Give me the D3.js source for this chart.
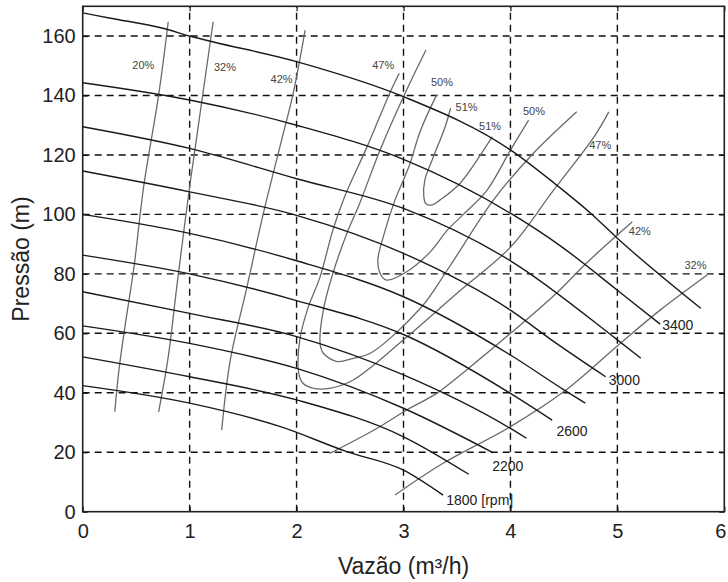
<!DOCTYPE html>
<html>
<head>
<meta charset="utf-8">
<script src="https://cdn.jsdelivr.net/npm/d3@7"></script>
<style>
  body { margin: 0; background: #fff; }
  svg { display: block; }
</style>
</head>
<body>
<div id="chart"></div>
<script>
// Pump map: head vs flow for several speeds, with efficiency iso-lines
const xTicks = [0, 1, 2, 3, 4, 5, 6];
const yTicks = [0, 20, 40, 60, 80, 100, 120, 140, 160];

// speed curves, [flow m3/h, head m]
const rpm = [1800, 2000, 2200, 2400, 2600, 2800, 3000, 3200, 3400, 3600];
const h1800 = [[0, 42.4], [1, 36.5], [1.85, 28.6], [2.47, 20.2], [3, 14], [3.37, 5.6]];
const h2000 = [[0, 52.1], [1, 45.4], [2, 37.6], [3, 25.2], [3.61, 12.6]];
const h2200 = [[0, 62.5], [1, 56.6], [2, 48.2], [3, 34.8], [3.84, 19.8]];
const h2400 = [[0, 74], [1, 66.7], [2, 58.9], [3, 46], [4, 28], [4.15, 24.7]];
const h2600 = [[0, 86.3], [1, 80], [2, 71], [3, 59.6], [4, 39.8], [4.39, 30.8]];
const h2800 = [[0, 100], [1, 93.6], [2, 84.4], [3, 72.3], [4, 52.7], [4.5, 41], [4.7, 36.5]];
const h3000 = [[0, 114.6], [1, 107.6], [2, 99.7], [3, 86.9], [4, 67.8], [4.43, 56.6], [4.89, 45.4]];
const h3200 = [[0, 129.5], [1, 122.2], [2, 112], [3, 102], [4, 84.4], [5, 57.8], [5.22, 51.6]];
const h3400 = [[0, 144.3], [1, 138.5], [2, 130], [3, 118.5], [4, 100.4], [4.46, 89.6], [5, 74.5], [5.4, 63.1]];
const h3600 = [[0, 167.8], [0.26, 166], [0.75, 162.6], [1, 160], [2, 151.4], [3, 139.6], [4, 121.7], [4.41, 110.5], [4.75, 100.4], [5, 92], [5.78, 68.4]];
const speedCurves = [h1800, h2000, h2200, h2400, h2600, h2800, h3000, h3200, h3400, h3600];

// speed labels (left end of each text)
const rpmLabelText = ['1800 [rpm]', '2200', '2600', '3000', '3400'];
const rpmLabelQ = [3.40, 3.83, 4.43, 4.92, 5.42];
const rpmLabelH = [3.4, 14.9, 26.6, 44, 62.5];

// efficiency iso-lines
const eff20 = [[0.30, 33.6], [0.34, 48], [0.40, 63.4], [0.48, 82.4], [0.57, 109.3], [0.71, 140.1], [0.80, 164.8]];
const eff32a = [[0.71, 33.6], [0.80, 52.1], [0.88, 75.7], [1.00, 109.3], [1.12, 139.6], [1.22, 164.8]];
const eff42a = [[1.30, 27.5], [1.38, 51], [1.53, 74.6], [1.69, 100.4], [1.86, 125], [1.97, 141], [2.08, 162]];
const eff47 = [[2.96, 147.5], [2.87, 140.7], [2.66, 122.8], [2.45, 106], [2.34, 94.8], [2.22, 79], [2.10, 67.8],
  [2.03, 57.7], [2.02, 46.6], [2.06, 43.2], [2.16, 41.5], [2.31, 41.5], [2.53, 44.3], [3.0, 57.8], [3.5, 73.5],
  [4.0, 89], [4.4, 108], [4.78, 126], [4.92, 134.5]];
const eff48 = [[3.21, 155.3], [3.0, 139.6], [2.78, 121.6], [2.59, 103.7], [2.47, 93.6], [2.34, 80.2], [2.25, 67.8],
  [2.22, 56.6], [2.25, 53.3], [2.38, 50.5], [2.53, 51.6], [2.69, 53.3], [3.16, 68.5], [3.41, 81.3], [3.84, 104.8],
  [4.2, 120], [4.62, 134.5]];
const eff50 = [[3.31, 140.2], [3.16, 128.3], [3.05, 116], [2.92, 104.8], [2.82, 93.6], [2.76, 84.7], [2.78, 80.2],
  [2.84, 77.9], [3.03, 80.7], [3.25, 87.4], [3.41, 94.7], [3.56, 100], [3.78, 108.1], [4.0, 121.6], [4.17, 131.7]];
const eff51 = [[3.44, 135.7], [3.39, 129.5], [3.28, 119.4], [3.20, 111.6], [3.19, 106], [3.21, 103.6], [3.27, 103.2],
  [3.34, 104.8], [3.53, 110.5], [3.81, 125], [3.83, 126.1]];
const eff42b = [[2.31, 19.6], [2.75, 28], [3.03, 34.2], [3.31, 39.8], [3.59, 47.7], [4.0, 60], [4.43, 73.5], [4.71, 83.6], [5.14, 97.5]];
const eff32b = [[2.92, 5.6], [3.37, 16.3], [4.0, 28.6], [4.5, 40.4], [5.01, 56.1], [5.40, 67.8], [5.84, 79.6]];
const effCurves = [eff20, eff32a, eff42a, eff47, eff48, eff50, eff51, eff42b, eff32b];

const effLabelText = ['20%', '32%', '42%', '47%', '50%', '51%', '51%', '50%', '47%', '42%', '32%'];
const effLabelQ = [0.567, 1.33, 1.86, 2.81, 3.36, 3.59, 3.81, 4.22, 4.84, 5.21, 5.73];
const effLabelH = [149.8, 149.1, 145.2, 149.9, 144.2, 135.6, 129.4, 134.4, 123, 94.1, 82.6];

const width = 728, height = 582;
const margin = { top: 6.3, right: 3.7, bottom: 70.3, left: 82.7 };

const svg = d3.select('#chart').append('svg')
  .attr('width', width)
  .attr('height', height);

const x = d3.scaleLinear().domain([0, 6]).range([margin.left, width - margin.right]);
const y = d3.scaleLinear().domain([0, 170]).range([height - margin.bottom, margin.top]);

// dashed grid
const grid = svg.append('g')
  .attr('stroke', '#111')
  .attr('stroke-width', 1.4)
  .attr('stroke-dasharray', '7,5');
grid.selectAll('line.vx')
  .data(xTicks.filter(d => d > 0 && d < 6))
  .enter().append('line')
  .attr('x1', d => x(d)).attr('x2', d => x(d))
  .attr('y1', y.range()[0]).attr('y2', y.range()[1]);
grid.selectAll('line.hy')
  .data(yTicks.filter(d => d > 0))
  .enter().append('line')
  .attr('x1', x.range()[0]).attr('x2', x.range()[1])
  .attr('y1', d => y(d)).attr('y2', d => y(d));

// efficiency lines (grey)
const effLine = d3.line()
  .x(d => x(d[0]))
  .y(d => y(d[1]))
  .curve(d3.curveCatmullRom.alpha(0.5));
svg.append('g')
  .selectAll('path')
  .data(effCurves)
  .enter().append('path')
  .attr('d', effLine)
  .attr('fill', 'none')
  .attr('stroke', '#6a6a6a')
  .attr('stroke-width', 1.3);

// speed curves (black)
const speedLine = d3.line()
  .x(d => x(d[0]))
  .y(d => y(d[1]))
  .curve(d3.curveMonotoneX);
svg.append('g')
  .selectAll('path')
  .data(speedCurves)
  .enter().append('path')
  .attr('d', speedLine)
  .attr('fill', 'none')
  .attr('stroke', '#1a1a1a')
  .attr('stroke-width', 1.4);

// efficiency labels
svg.append('g')
  .selectAll('text')
  .data(effLabelText)
  .enter().append('text')
  .attr('x', (d, i) => x(effLabelQ[i]))
  .attr('y', (d, i) => y(effLabelH[i]))
  .attr('text-anchor', 'middle')
  .attr('dominant-baseline', 'middle')
  .attr('font-family', 'Liberation Sans, Arial, sans-serif')
  .attr('font-size', 11)
  .attr('fill', '#444')
  .text(d => d);

// speed labels
svg.append('g')
  .selectAll('text')
  .data(rpmLabelText)
  .enter().append('text')
  .attr('x', (d, i) => x(rpmLabelQ[i]))
  .attr('y', (d, i) => y(rpmLabelH[i]))
  .attr('dominant-baseline', 'middle')
  .attr('font-family', 'Liberation Sans, Arial, sans-serif')
  .attr('font-size', 14)
  .attr('fill', '#222')
  .text(d => d);

// axes, ticks pointing inward like the original
const axisFont = g => g.selectAll('text')
  .attr('font-family', 'Liberation Sans, Arial, sans-serif')
  .attr('font-size', 20)
  .attr('fill', '#222');

svg.append('g')
  .attr('transform', `translate(0,${y(0)})`)
  .call(d3.axisBottom(x).tickValues(xTicks).tickFormat(d3.format('d')).tickSizeInner(-5).tickSizeOuter(0).tickPadding(12))
  .call(g => g.select('.domain').remove())
  .call(axisFont)
  .call(g => g.selectAll('.tick text').filter(d => d === 6).attr('dx', -4));

svg.append('g')
  .attr('transform', `translate(${x(0)},0)`)
  .call(d3.axisLeft(y).tickValues(yTicks).tickFormat(d3.format('d')).tickSizeInner(-5).tickSizeOuter(0).tickPadding(7))
  .call(g => g.select('.domain').remove())
  .call(axisFont);

svg.append('g')
  .attr('transform', `translate(0,${y(170)})`)
  .call(d3.axisTop(x).tickValues(xTicks).tickFormat('').tickSizeInner(-5).tickSizeOuter(0))
  .call(g => g.select('.domain').remove());

svg.append('g')
  .attr('transform', `translate(${x(6)},0)`)
  .call(d3.axisRight(y).tickValues(yTicks).tickFormat('').tickSizeInner(-5).tickSizeOuter(0))
  .call(g => g.select('.domain').remove());

svg.selectAll('.tick line').attr('stroke', '#111').attr('stroke-width', 1.2);

// frame
svg.append('rect')
  .attr('x', x(0))
  .attr('y', y(170))
  .attr('width', x(6) - x(0))
  .attr('height', y(0) - y(170))
  .attr('fill', 'none')
  .attr('stroke', '#222')
  .attr('stroke-width', 1.6);

// axis titles
svg.append('text')
  .attr('x', (x(0) + x(6)) / 2)
  .attr('y', 574)
  .attr('text-anchor', 'middle')
  .attr('font-family', 'Liberation Sans, Arial, sans-serif')
  .attr('font-size', 23)
  .attr('fill', '#222')
  .text('Vazão (m³/h)');

svg.append('text')
  .attr('transform', `translate(29,${(y(0) + y(170)) / 2}) rotate(-90)`)
  .attr('text-anchor', 'middle')
  .attr('font-family', 'Liberation Sans, Arial, sans-serif')
  .attr('font-size', 23)
  .attr('fill', '#222')
  .text('Pressão (m)');
</script>
</body>
</html>
